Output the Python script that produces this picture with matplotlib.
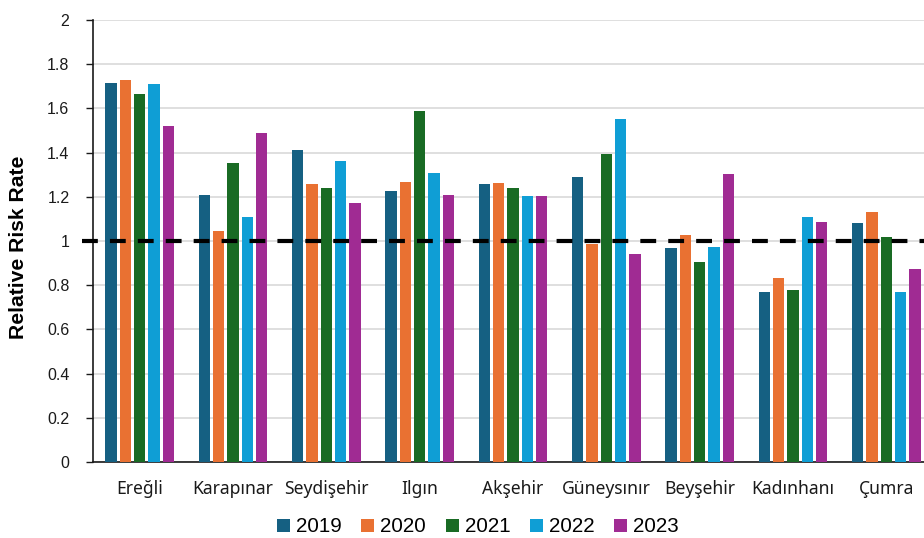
import matplotlib
matplotlib.use("Agg")
import matplotlib.pyplot as plt
import numpy as np

districts = ["Ereğli", "Karapınar", "Seydişehir", "Ilgın", "Akşehir",
             "Güneysınır", "Beyşehir", "Kadınhanı", "Çumra"]
years = ["2019", "2020", "2021", "2022", "2023"]

rr_2019 = [1.715, 1.206, 1.413, 1.224, 1.259, 1.288, 0.967, 0.771, 1.080]
rr_2020 = [1.730, 1.045, 1.256, 1.267, 1.264, 0.985, 1.027, 0.831, 1.131]
rr_2021 = [1.663, 1.351, 1.241, 1.586, 1.241, 1.395, 0.906, 0.777, 1.018]
rr_2022 = [1.712, 1.109, 1.363, 1.306, 1.205, 1.552, 0.973, 1.110, 0.769]
rr_2023 = [1.519, 1.487, 1.170, 1.206, 1.204, 0.939, 1.301, 1.087, 0.875]
series = [rr_2019, rr_2020, rr_2021, rr_2022, rr_2023]

colors = ["#156082", "#E97132", "#196B24", "#0F9ED5", "#A02B93"]
y_ticks = [0, 0.2, 0.4, 0.6, 0.8, 1, 1.2, 1.4, 1.6, 1.8, 2]
y_tick_labels = ["0", "0.2", "0.4", "0.6", "0.8", "1", "1.2", "1.4", "1.6", "1.8", "2"]
reference_level = 1.0

W, H = 924, 538
fig = plt.figure(figsize=(W / 100, H / 100), dpi=100)
fig.patch.set_facecolor("white")

# axes run a little past the right edge of the canvas
left, bottom, top, right = 93, 462, 20, 933
ax = fig.add_axes([left / W, 1 - bottom / H, (right - left) / W, (bottom - top) / H])

x = np.arange(len(districts))
pitch = 0.153
bar_w = 0.122
for i, (vals, col, yr) in enumerate(zip(series, colors, years)):
    ax.bar(x + (i - 2) * pitch, vals, width=bar_w, color=col, label=yr,
           zorder=3, edgecolor="none")

ax.set_xlim(-0.5, len(districts) - 0.5)
ax.set_ylim(0, 2)

ax.set_yticks(y_ticks)
ax.set_yticklabels(y_tick_labels, fontsize=11.5, family="Liberation Sans", color="#1a1a1a")
ax.yaxis.grid(True, color="#d9d9d9", linewidth=1.2, zorder=0)
ax.set_axisbelow(True)
ax.tick_params(axis="y", length=5, width=1, color="#1a1a1a", pad=12)

ax.set_xticks(x)
ax.set_xticklabels(districts, fontsize=12.6, family="Noto Sans", color="#1a1a1a")
ax.tick_params(axis="x", length=0, pad=13)

for side in ["top", "right"]:
    ax.spines[side].set_visible(False)
for side in ["left", "bottom"]:
    ax.spines[side].set_color("#1a1a1a")
    ax.spines[side].set_linewidth(1.2)

ax.set_ylabel("Relative Risk Rate", fontsize=15.2, fontweight="bold",
              family="Liberation Sans")
ax.yaxis.set_label_coords(-0.077, 0.485)

# reference line at a relative risk of 1
ax.axhline(reference_level, xmin=-0.013, xmax=1.0, color="black", linewidth=3.0,
           linestyle=(0, (3.8, 2.9)), zorder=4, clip_on=False)

fig.legend(loc="center", bbox_to_anchor=(478 / W, 1 - 527 / H), ncol=5,
           frameon=False, handlelength=0.63, handleheight=0.63,
           handletextpad=0.3, columnspacing=0.95,
           prop={"family": "Liberation Sans", "size": 14.8})

fig.savefig("out.png", dpi=100)
